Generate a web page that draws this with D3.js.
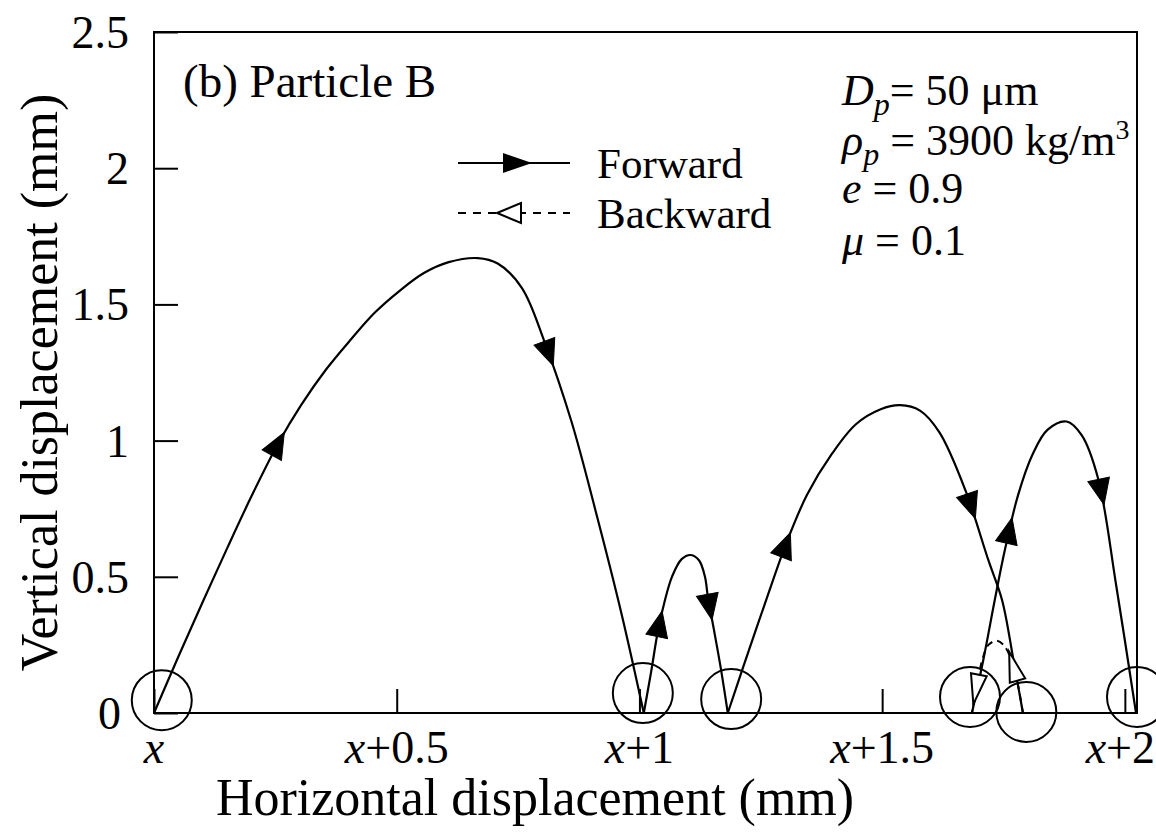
<!DOCTYPE html>
<html><head><meta charset="utf-8">
<script src="https://cdn.jsdelivr.net/npm/d3@7"></script>
<style>body{margin:0;background:#fff}</style>
</head><body><svg id="c" width="1156" height="836"></svg>
<script>
// ---- data (mm) ----
const xTicks = [0, 0.5, 1, 1.5, 2];
const xTickLabels = ["", "+0.5", "+1", "+1.5", "+2"];
const yTicks = [0, 0.5, 1, 1.5, 2, 2.5];
const yTickLabels = ["0", "0.5", "1", "1.5", "2", "2.5"];
const hop1 = [[0,0],[0.051,0.21],[0.101,0.41],[0.152,0.61],[0.202,0.8],[0.256,0.99],[0.303,1.13],[0.354,1.26],[0.405,1.37],[0.455,1.47],[0.506,1.55],[0.556,1.615],[0.607,1.655],[0.667,1.67],[0.708,1.65],[0.758,1.56],[0.805,1.36],[0.86,1.07],[0.91,0.74],[0.961,0.38],[1.009,0]];
const hop2 = [[1.009,0],[1.024,0.15],[1.038,0.3],[1.052,0.41],[1.067,0.5],[1.087,0.565],[1.106,0.58],[1.123,0.56],[1.135,0.5],[1.141,0.426],[1.153,0.31],[1.168,0.16],[1.182,0]];
const hop3 = [[1.182,0],[1.214,0.17],[1.264,0.43],[1.304,0.63],[1.345,0.8],[1.396,0.95],[1.446,1.06],[1.497,1.115],[1.537,1.13],[1.578,1.11],[1.618,1.03],[1.671,0.82],[1.719,0.56],[1.747,0.415],[1.77,0.2],[1.79,0]];
const hop4 = [[1.685,0],[1.709,0.2],[1.732,0.415],[1.753,0.6],[1.78,0.8],[1.81,0.95],[1.841,1.04],[1.88,1.07],[1.911,1.02],[1.945,0.86],[1.982,0.47],[2.023,0]];
const backHop = [[1.79,0],[1.78,0.1],[1.765,0.2],[1.75,0.25],[1.736,0.265],[1.719,0.25],[1.707,0.2],[1.695,0.1],[1.685,0]];
const forwardHops = [hop1, hop2, hop3, hop4];
const forwardArrowAt = [[0.275, 0.655], [0.27, 0.68], [0.25, 0.70], [0.3, 0.64]]; // fractions of path length
const backArrowAt = [0.3, 0.85];
const impactX = [0.016, 1.007, 1.189, 1.681, 1.797, 2.025];
const impactY = [0.047, 0.073, 0.051, 0.059, 0.004, 0.059];

const FONT = "Liberation Serif";
const svg = d3.select("#c");
const x = d3.scaleLinear().domain([0, 2.025]).range([154, 1137]);
const y = d3.scaleLinear().domain([0, 2.5]).range([713, 32]);
function txt(px, py, size) {
  return svg.append("text").attr("x", px).attr("y", py).attr("font-size", size)
    .style("font-family", FONT).attr("fill", "#000");
}

// frame
svg.append("rect").attr("x", x(0)).attr("y", y(2.5)).attr("width", x(2.025)-x(0)).attr("height", y(0)-y(2.5))
  .attr("fill", "none").attr("stroke", "#000").attr("stroke-width", 2);

// x ticks (inward)
const gx = svg.append("g").attr("transform", `translate(0,${y(0)})`)
  .call(d3.axisBottom(x).tickValues(xTicks).tickSize(-24).tickFormat(""));
gx.select(".domain").remove();
gx.selectAll(".tick line").attr("stroke", "#000").attr("stroke-width", 2);
xTicks.forEach((t, i) => {
  const last = i === xTicks.length - 1;
  const tx = txt(last ? 1155 : x(t), 763, 46).attr("text-anchor", last ? "end" : "middle");
  tx.append("tspan").attr("font-style", "italic").text("x");
  tx.append("tspan").text(xTickLabels[i]);
});
// y ticks
const gy = svg.append("g").attr("transform", `translate(${x(0)},0)`)
  .call(d3.axisLeft(y).tickValues(yTicks).tickSize(-24).tickFormat(""));
gy.select(".domain").remove();
gy.selectAll(".tick line").attr("stroke", "#000").attr("stroke-width", 2);
yTicks.forEach((t, i) => {
  txt(t === 0 ? 121 : 129, y(t) + 16, 46).attr("text-anchor", "end").text(yTickLabels[i]);
});

// axis titles
txt(535, 815, 52).attr("text-anchor", "middle").text("Horizontal displacement (mm)");
txt(0, 0, 52).attr("x", null).attr("y", null)
  .attr("transform", `translate(57,${(y(0)+y(2.5))/2 + 10}) rotate(-90)`).attr("text-anchor", "middle").text("Vertical displacement (mm)");

// trajectories
const line = d3.line().x(d => x(d[0])).y(d => y(d[1])).curve(d3.curveCatmullRom.alpha(0.5));
function arrowAt(pathNode, frac, filled, L, W) {
  const len = pathNode.getTotalLength();
  const p = pathNode.getPointAtLength(len * frac);
  const p2 = pathNode.getPointAtLength(Math.min(len, len * frac + 2));
  const p1 = pathNode.getPointAtLength(Math.max(0, len * frac - 2));
  const ang = Math.atan2(p2.y - p1.y, p2.x - p1.x) * 180 / Math.PI;
  svg.append("path").attr("d", `M${L/2},0 L${-L/2},${-W/2} L${-L/2},${W/2} Z`)
    .attr("transform", `translate(${p.x},${p.y}) rotate(${ang})`)
    .attr("fill", filled ? "#000" : "#fff").attr("stroke", "#000").attr("stroke-width", filled ? 1 : 2);
}
const bp = svg.append("path").attr("d", line(backHop)).attr("fill", "none").attr("stroke", "#000").attr("stroke-width", 2).attr("stroke-dasharray", "7,5");
forwardHops.forEach(h => {
  svg.append("path").attr("d", line(h)).attr("fill", "none").attr("stroke", "#000").attr("stroke-width", 2.2);
});
forwardHops.forEach((h, i) => {
  const node = svg.append("path").attr("d", line(h)).attr("fill", "none").attr("stroke", "none").node();
  forwardArrowAt[i].forEach(f => arrowAt(node, f, true, 26, 22));
});
backArrowAt.forEach(f => arrowAt(bp.node(), f, false, 30, 16));

// impact circles
impactX.forEach((v, i) => {
  svg.append("circle").attr("cx", x(v)).attr("cy", y(impactY[i])).attr("r", 30)
    .attr("fill", "none").attr("stroke", "#000").attr("stroke-width", 2);
});

// panel label
txt(183, 97, 47).text("(b) Particle B");

// legend
const lg = svg.append("g");
lg.append("line").attr("x1", 458).attr("x2", 570).attr("y1", 163).attr("y2", 163).attr("stroke", "#000").attr("stroke-width", 2.2);
lg.append("path").attr("d", "M532,163 L503,153 L503,173 Z").attr("fill", "#000");
lg.append("line").attr("x1", 458).attr("x2", 570).attr("y1", 213).attr("y2", 213).attr("stroke", "#000").attr("stroke-width", 2).attr("stroke-dasharray", "8,7");
lg.append("path").attr("d", "M497,213 L521,203 L521,223 Z").attr("fill", "#fff").attr("stroke", "#000").attr("stroke-width", 2);
txt(597, 178, 43).text("Forward");
txt(597, 228, 43).text("Backward");

// parameters
const fs = 44;
const t1 = txt(842, 105, fs);
t1.append("tspan").attr("font-style", "italic").text("D");
t1.append("tspan").attr("font-style", "italic").attr("font-size", 32).attr("dy", 10).text("p");
t1.append("tspan").attr("dy", -10).text("= 50 μm");
const t2 = txt(842, 155, fs);
t2.append("tspan").attr("font-style", "italic").text("ρ");
t2.append("tspan").attr("font-style", "italic").attr("font-size", 32).attr("dy", 10).text("p");
t2.append("tspan").attr("dy", -10).text(" = 3900 kg/m");
t2.append("tspan").attr("font-size", 28).attr("dy", -16).text("3");
const t3 = txt(842, 203, fs);
t3.append("tspan").attr("font-style", "italic").text("e");
t3.append("tspan").text(" = 0.9");
const t4 = txt(842, 255, fs);
t4.append("tspan").attr("font-style", "italic").text("μ");
t4.append("tspan").text(" = 0.1");
</script></body></html>
